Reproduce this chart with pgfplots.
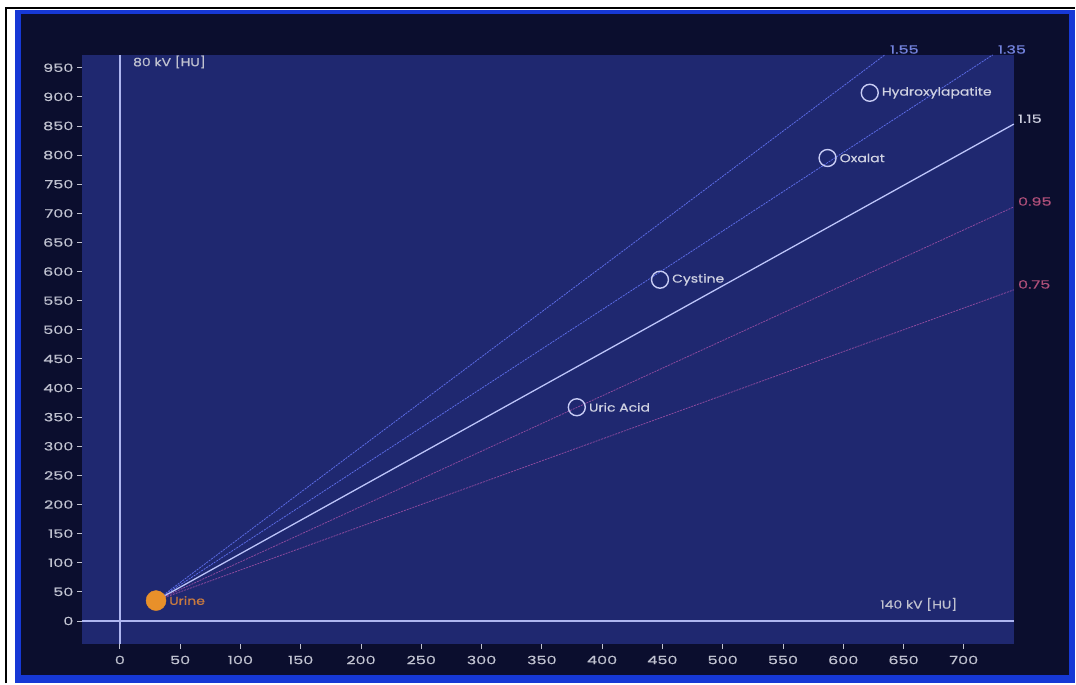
\documentclass[border=0pt]{standalone}
\usepackage{fontspec}
\setmainfont{Poppins}[FakeStretch=1.22, FakeBold=0.5]
\newfontfamily\numfont{Poppins}[FakeStretch=1.4, FakeBold=0.5]
\usepackage{pgfplots}
\pgfplotsset{compat=1.18}
\definecolor{navy}{HTML}{0B0E2E}
\definecolor{plotbg}{HTML}{1F2870}
\definecolor{frameblue}{HTML}{1638D6}
\definecolor{ticktext}{HTML}{C0C2D0}
\definecolor{axline}{HTML}{AEB6F0}
\definecolor{lineblue}{HTML}{5C6CE6}
\definecolor{linewhite}{HTML}{BCC4FA}
\definecolor{linepurple}{HTML}{8C4A9E}
\definecolor{lblblue}{HTML}{7484E0}
\definecolor{lblpink}{HTML}{B0507A}
\definecolor{urine}{HTML}{E8902A}
\definecolor{urinetext}{HTML}{C87A40}
\definecolor{mk}{HTML}{C8CCF4}
\definecolor{lbltext}{HTML}{D0D2E2}
\begin{document}
\begin{tikzpicture}
\fill[white] (-82bp,-39bp) rectangle (994bp,645bp);
\draw[black, line width=2.5bp] (-76bp,-39bp) -- (-76bp,637bp) -- (994bp,637bp);
\fill[frameblue] (-67bp,-39bp) rectangle (994bp,635bp);
\fill[navy] (-61bp,-31bp) rectangle (988bp,631bp);
\begin{axis}[at={(0,0)}, anchor=south west, scale only axis,
  width=933bp, height=590bp,
  xmin=-31.5, xmax=741.5, ymin=-40, ymax=972,
  axis background/.style={fill=plotbg},
  axis line style={draw=none},
  xtick={0,50,...,700}, ytick={0,50,...,950},
  tick align=outside, xtick pos=bottom, ytick pos=left,
  major tick length=5bp,
  tick style={ticktext, line width=0.9bp},
  ticklabel style={font=\numfont\fontsize{11.5}{13}\selectfont, text=ticktext},
  xticklabel style={yshift=-3bp},
  /pgf/number format/assume math mode=true,
  clip=false,
  ]
% zero axes
\addplot[axline, line width=1.3bp] coordinates {(0,-40) (0,972)};
\addplot[axline, line width=1.3bp] coordinates {(-31.5,0) (741.5,0)};
% ratio lines
\addplot[lineblue, line width=0.8bp, dash pattern=on 2bp off 1bp] coordinates {(30,35) (634.5,972)};
\addplot[lineblue, line width=0.8bp, dash pattern=on 2bp off 1bp] coordinates {(30,35) (724,972)};
\addplot[linewhite, line width=1.3bp] coordinates {(30,35) (741.5,853.2)};
\addplot[linepurple, line width=0.8bp, dash pattern=on 2bp off 1bp] coordinates {(30,35) (741.5,711)};
\addplot[linepurple, line width=0.8bp, dash pattern=on 2bp off 1bp] coordinates {(30,35) (741.5,568.6)};
% materials
\addplot[only marks, mark=o, mark size=8.5bp, mark options={draw=mk, line width=1.4bp}] coordinates {(622,907) (587,795) (448,586) (379,367)};
\addplot[only marks, mark=*, mark size=10bp, mark options={draw=urine, fill=urine}] coordinates {(30,35)};
% labels
\begin{scope}[every node/.style={font=\fontsize{11.5}{13}\selectfont, inner sep=1bp}]
\node[anchor=south west, text=lblblue, font=\numfont\fontsize{11.5}{13}\selectfont, xshift=4bp] at (axis cs:634.5,972) {1.55};
\node[anchor=south west, text=lblblue, font=\numfont\fontsize{11.5}{13}\selectfont, xshift=4bp] at (axis cs:724,972) {1.35};
\node[anchor=south west, text=lbltext, font=\numfont\fontsize{11.5}{13}\selectfont, xshift=3bp] at (axis cs:741.5,853.2) {1.15};
\node[anchor=south west, text=lblpink, font=\numfont\fontsize{11.5}{13}\selectfont, xshift=3bp] at (axis cs:741.5,711) {0.95};
\node[anchor=south west, text=lblpink, font=\numfont\fontsize{11.5}{13}\selectfont, xshift=3bp] at (axis cs:741.5,568.6) {0.75};
\node[anchor=west, text=lbltext, xshift=11bp] at (axis cs:622,907) {Hydroxylapatite};
\node[anchor=west, text=lbltext, xshift=11bp] at (axis cs:587,795) {Oxalat};
\node[anchor=west, text=lbltext, xshift=11bp] at (axis cs:448,586) {Cystine};
\node[anchor=west, text=lbltext, xshift=11bp] at (axis cs:379,367) {Uric Acid};
\node[anchor=west, text=urinetext, xshift=12bp] at (axis cs:30,35) {Urine};
\node[anchor=west, text=ticktext] at (axis cs:10,960) {80 kV [HU]};
\node[anchor=west, text=ticktext] at (axis cs:629.7,28.5) {140 kV [HU]};
\end{scope}
\end{axis}
\end{tikzpicture}
\end{document}
